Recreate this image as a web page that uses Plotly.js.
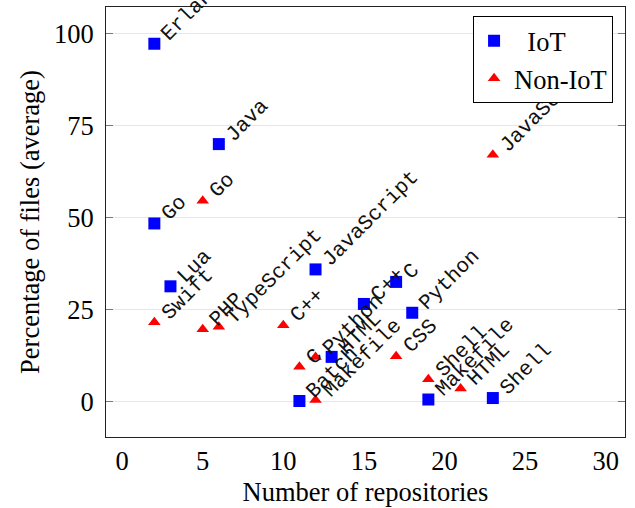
<!DOCTYPE html>
<html>
<head>
<meta charset="utf-8">
<script src="https://cdn.plot.ly/plotly-3.0.1.min.js"></script>
<style>html,body{margin:0;padding:0;background:#fff;}#chart{width:635px;height:508px;}</style>
</head>
<body>
<div id="chart"></div>
<script>
// IoT series
const iotLang  = ["Erlang","Java","Go","Lua","JavaScript","C++","C","Python","HTML","Batch","Makefile","Shell"];
const iotRepos = [2, 6, 2, 3, 12, 15, 17, 18, 13, 11, 19, 23];
const iotPct   = [97.3, 70.0, 48.4, 31.3, 35.9, 26.5, 32.5, 24.1, 12.1, 0.1, 0.5, 0.9];

// Non-IoT series
const nonLang  = ["Go","Swift","PHP","TypeScript","C++","C","Python","Makefile","CSS","Shell","HTML","JavaScript"];
const nonRepos = [5, 2, 5, 6, 10, 11, 12, 12, 17, 19, 21, 23];
const nonPct   = [54.6, 21.5, 19.6, 20.3, 20.7, 9.4, 12.1, 0.4, 12.3, 6.0, 3.5, 67.1];

const xTicks = [0, 5, 10, 15, 20, 25, 30];
const yTicks = [0, 25, 50, 75, 100];

const serif = "Liberation Serif, Times New Roman, serif";
const mono = "Liberation Mono, DejaVu Sans Mono, monospace";

const traces = [
  {
    type: "scatter", mode: "markers", name: "\u00a0\u00a0IoT",
    x: iotRepos, y: iotPct, text: iotLang,
    marker: {symbol: "square", size: 12, color: "#0000ff"},
    cliponaxis: false
  },
  {
    type: "scatter", mode: "markers", name: "Non-IoT",
    x: nonRepos, y: nonPct, text: nonLang,
    marker: {symbol: "triangle-up", size: 11, color: "#ff0000"},
    cliponaxis: false
  }
];

function labels(xs, ys, names) {
  return names.map((n, i) => ({
    x: xs[i], y: ys[i], xref: "x", yref: "y",
    text: n, textangle: -45, showarrow: false,
    xanchor: "left", yanchor: "bottom",
    xshift: 0, yshift: -5,
    font: {family: mono, size: 21, color: "#111"}
  }));
}

const layout = {
  width: 635, height: 508,
  margin: {l: 106, r: 10, t: 7, b: 71},
  paper_bgcolor: "#fff", plot_bgcolor: "#fff",
  font: {family: serif, size: 26.5, color: "#000"},
  showlegend: true,
  legend: {
    x: 0.977, y: 0.979, xanchor: "right", yanchor: "top",
    bgcolor: "#fff", bordercolor: "#000", borderwidth: 1,
    font: {family: serif, size: 26.5, color: "#000"},
    tracegroupgap: 0, itemwidth: 30
  },
  xaxis: {
    range: [-1, 31.2],
    tickvals: xTicks, ticktext: xTicks.map(String),
    ticks: "", showgrid: false, zeroline: false,
    showline: true, linecolor: "#222", linewidth: 1, mirror: true,
    tickfont: {family: serif, size: 26.5},
    ticklabelstandoff: 0,
    title: {text: "Number of repositories", font: {family: serif, size: 26.5}, standoff: 7}
  },
  yaxis: {
    range: [-9.7, 107.3],
    tickvals: yTicks, ticktext: yTicks.map(String),
    ticks: "inside", ticklen: 7, tickcolor: "#777", tickwidth: 1,
    showgrid: true, gridcolor: "#e6e6e6", gridwidth: 1, zeroline: false,
    showline: true, linecolor: "#222", linewidth: 1, mirror: "ticks",
    tickfont: {family: serif, size: 26.5},
    ticklabelstandoff: 6,
    title: {text: "Percentage of files (average)", font: {family: serif, size: 26.5}, standoff: 6}
  },
  annotations: labels(iotRepos, iotPct, iotLang).concat(labels(nonRepos, nonPct, nonLang))
};

const gd = document.getElementById("chart");
Plotly.newPlot(gd, traces, layout, {displayModeBar: false, staticPlot: true}).then(() => {
  const leg = gd.querySelector(".infolayer .legend");
  if (leg && leg.parentNode) leg.parentNode.appendChild(leg);
});
</script>
</body>
</html>
